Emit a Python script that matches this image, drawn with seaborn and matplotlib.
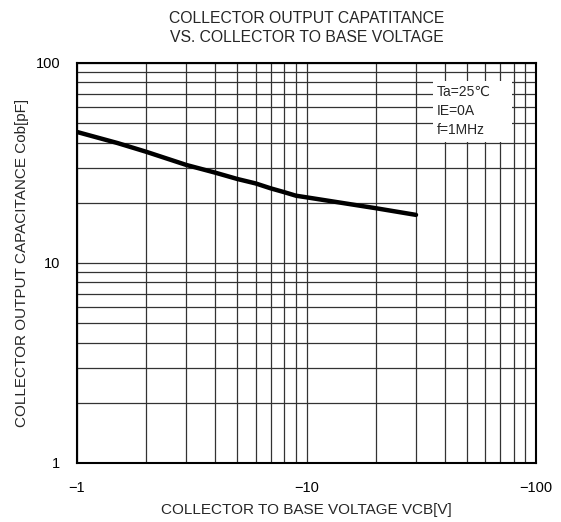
import numpy as np
import pandas as pd
import matplotlib
matplotlib.use("Agg")
import matplotlib.pyplot as plt
import seaborn as sns
from matplotlib.patches import Rectangle
from matplotlib.ticker import FixedLocator, NullFormatter

# values
vcb = [-1, -1.5, -2, -3, -4, -5, -6, -7, -8, -9, -10, -15, -20, -30]
cob = [45.2, 39.8, 36.0, 30.9, 28.3, 26.3, 25.0, 23.6, 22.6, 21.7, 21.3, 19.8, 18.8, 17.4]
x_ticks = [1, 10, 100]
x_labels = ["\u22121", "\u221210", "\u2212100"]
y_ticks = [1, 10, 100]
y_labels = ["1", "10", "100"]
cond_text = ["Ta=25\u2103", "IE=0A", "f=1MHz"]

data = pd.DataFrame({"VCB": vcb, "Cob": cob})
data["absV"] = data["VCB"].abs()

sns.set_style("white")
plt.rcParams['font.family'] = ['Liberation Sans', 'DejaVu Sans']

fig = plt.figure(figsize=(5.61, 5.22), dpi=100)
ax = fig.add_axes([77 / 561, 1 - 463 / 522, 459 / 561, 400 / 522])

ax.set_xscale("log")
ax.set_yscale("log")
ax.set_xlim(1, 100)
ax.set_ylim(1, 100)

sns.lineplot(data=data, x="absV", y="Cob", color="black", linewidth=3.2, ax=ax, zorder=5)

minor = [m * d for d in (1, 10) for m in range(2, 10)]
ax.xaxis.set_major_locator(FixedLocator(x_ticks))
ax.xaxis.set_minor_locator(FixedLocator(minor))
ax.yaxis.set_major_locator(FixedLocator(y_ticks))
ax.yaxis.set_minor_locator(FixedLocator(minor))
ax.set_xticklabels(x_labels)
ax.set_yticklabels(y_labels)
ax.xaxis.set_minor_formatter(NullFormatter())
ax.yaxis.set_minor_formatter(NullFormatter())
ax.tick_params(which="both", length=0, labelsize=10.5, colors="black")
ax.tick_params(axis="x", pad=13)
ax.tick_params(axis="y", pad=12)

ax.grid(True, which="both", color="#333333", linewidth=0.9)
for s in ax.spines.values():
    s.set_color("black")
    s.set_linewidth(1.5)

ax.set_xlabel("COLLECTOR TO BASE VOLTAGE VCB[V]", fontsize=11, labelpad=6)
ax.set_ylabel("COLLECTOR OUTPUT CAPACITANCE Cob[pF]", fontsize=11, labelpad=5)
ax.set_title("COLLECTOR OUTPUT CAPATITANCE\nVS. COLLECTOR TO BASE VOLTAGE", fontsize=11.3, pad=15, linespacing=1.35)

# condition box
ax.add_patch(Rectangle((0.776, 0.8025), 0.172, 0.1525, transform=ax.transAxes,
                       facecolor="white", edgecolor="none", zorder=4))
for i, t in enumerate(cond_text):
    ax.text(0.784, 0.928 - i * 0.048, t, transform=ax.transAxes, fontsize=10,
            va="center", ha="left", zorder=6)

fig.savefig("out.png", dpi=100)
